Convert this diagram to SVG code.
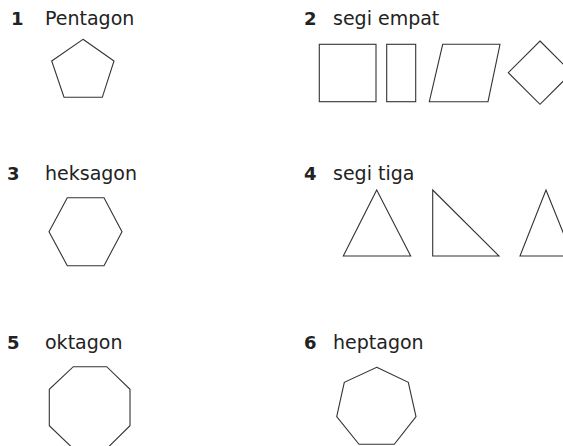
<svg xmlns="http://www.w3.org/2000/svg" width="563" height="446" viewBox="0 0 563 446">
<style>
.num{font-family:"DejaVu Sans",sans-serif;font-size:18px;font-weight:bold;fill:#222}
.lbl{font-family:"DejaVu Sans",sans-serif;font-size:19px;fill:#222}
.sh{fill:none;stroke:#333;stroke-width:1.1;stroke-linejoin:miter}
</style>
<rect width="563" height="446" fill="#fff"/>
<g id="item1">
<text class="num" x="11" y="25">1</text>
<text class="lbl" x="45" y="25">Pentagon</text>
<polygon class="sh" points="83,39.3 114,61 102.3,97.3 64,97.3 51.7,61"/>
</g>
<g id="item2">
<text class="num" x="304" y="25">2</text>
<text class="lbl" x="333" y="25">segi empat</text>
<rect class="sh" x="319.3" y="44.3" width="56.7" height="57.4"/>
<rect class="sh" x="386.7" y="44.3" width="29" height="57.4"/>
<polygon class="sh" points="442.7,44.3 500,44.3 488,101.7 429.3,101.7"/>
<polygon class="sh" points="540,41 571.7,72.7 540,104.3 508.3,72.7"/>
</g>
<g id="item3">
<text class="num" x="7" y="180">3</text>
<text class="lbl" x="45" y="180">heksagon</text>
<polygon class="sh" points="67.3,197.7 104,197.7 122,231.7 104,265.7 67.3,265.7 49,231.7"/>
</g>
<g id="item4">
<text class="num" x="304" y="180">4</text>
<text class="lbl" x="333" y="180">segi tiga</text>
<polygon class="sh" points="376.7,190 410.7,256 343.3,256"/>
<polygon class="sh" points="432.7,190 499,256 432.7,256"/>
<polygon class="sh" points="546,190 572.5,256 520,256"/>
</g>
<g id="item5">
<text class="num" x="7" y="349">5</text>
<text class="lbl" x="45" y="349">oktagon</text>
<polygon class="sh" points="73.3,366.7 106.7,366.7 130,389.3 130,425.7 106.7,448.7 73.3,448.7 49.3,425.7 49.3,389.3"/>
</g>
<g id="item6">
<text class="num" x="304" y="349">6</text>
<text class="lbl" x="333" y="349">heptagon</text>
<polygon class="sh" points="376.7,367.3 408.3,382.3 416,416.7 394.3,444.3 359,444.3 336.7,416.7 344.3,382.3"/>
</g>
<g id="connectors"></g>
</svg>
